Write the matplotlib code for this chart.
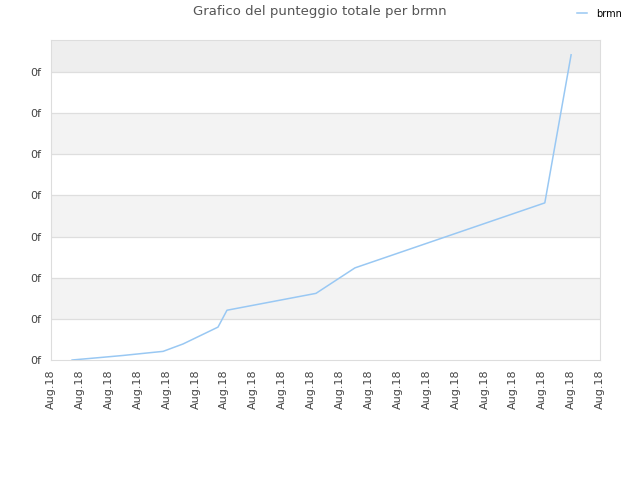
import matplotlib
matplotlib.use("Agg")
import matplotlib.pyplot as plt

# data (x in tick-step units, y in tick units)
x_vals = [0.73, 1.70, 2.49, 3.32, 3.88, 4.57, 5.78, 6.09, 9.17, 10.52, 17.09, 18.00]
y_vals = [0.00, 0.06, 0.11, 0.17, 0.21, 0.39, 0.80, 1.21, 1.62, 2.24, 3.82, 7.42]
x_ticks = list(range(20))
x_labels = ["Aug.18"] * 20
y_ticks = list(range(8))
y_labels = ["0f"] * 8
series_name = "brmn"
title = "Grafico del punteggio totale per brmn"

fig = plt.figure(figsize=(6.4, 4.8), dpi=100)
ax = fig.add_axes([51/640, 1-360/480, 549/640, 320/480])

ymax = 7.78
ax.set_xlim(0, 19)
ax.set_ylim(0, ymax)

# alternating bands
for i in range(8):
    lo, hi = i, min(i + 1, ymax)
    if i % 2 == 1:
        col = "#eeeeee" if i == 7 else "#f3f3f3"
        ax.axhspan(lo, hi, color=col, zorder=0, lw=0)
for yt in y_ticks[1:]:
    ax.axhline(yt, color="#dedede", lw=0.9, zorder=1)

ax.plot(x_vals, y_vals, color="#99c8f3", lw=1.1, zorder=3, label=series_name)

ax.set_xticks(x_ticks)
ax.set_xticklabels(x_labels, rotation=90, fontsize=8, color="#444444")
ax.set_yticks(y_ticks)
ax.set_yticklabels(y_labels, fontsize=8, color="#444444")
ax.tick_params(length=0, pad=7)
for s in ax.spines.values():
    s.set_color("#dddddd")

fig.text(0.5, 1-12/480, title, ha="center", va="center", fontsize=9.5, color="#555555")
fig.legend(loc="upper right", bbox_to_anchor=(0.985, 1.0), frameon=False, fontsize=7,
           handlelength=1.0, handletextpad=0.9)

fig.savefig("out.png", dpi=100)
